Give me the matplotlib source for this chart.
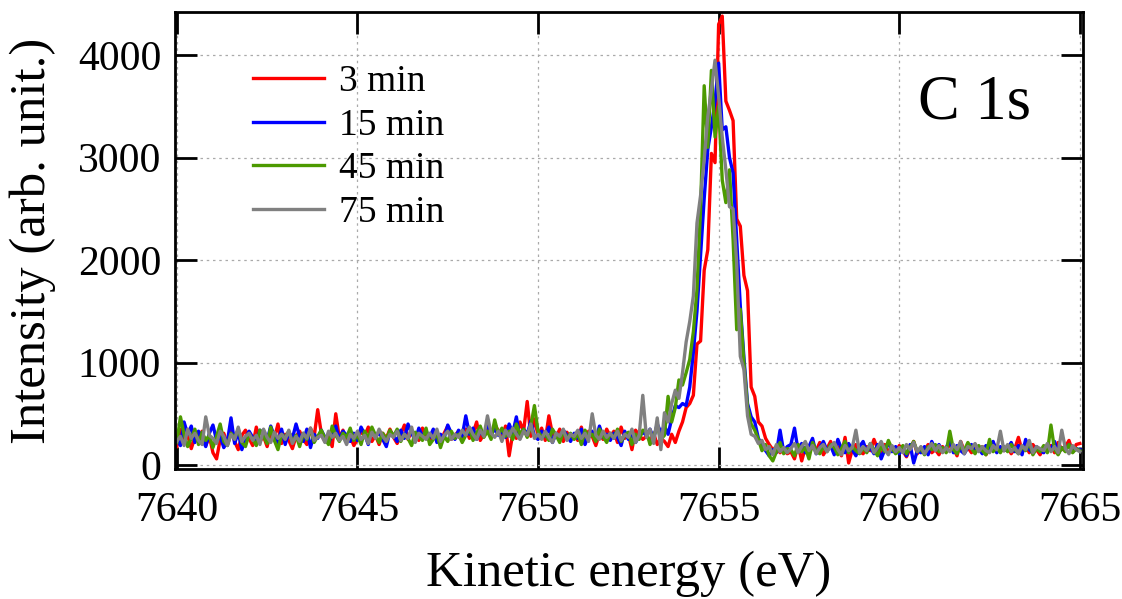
import numpy as np
import matplotlib
matplotlib.use("Agg")
import matplotlib.pyplot as plt

# kinetic energy grid, 0.1 eV step
energy = np.round(np.arange(7640.0, 7665.05, 0.1), 1)

# intensities, one row of 10 values per eV
int_3min = [
    180, 350, 220, 300, 160, 270, 240, 330, 190, 280,
    120, 60, 250, 310, 200, 380, 230, 150, 290, 340,
    260, 190, 370, 230, 280, 180, 320, 260, 400, 210,
    300, 240, 160, 280, 330, 250, 200, 360, 270, 540,
    310, 230, 290, 180, 500, 260, 340, 220, 280, 190,
    250, 330, 280, 370, 230, 290, 200, 310, 260, 350,
    270, 210, 300, 390, 250, 330, 280, 240, 360, 300,
    230, 340, 280, 200, 310, 380, 250, 290, 330, 270,
    350, 260, 310, 420, 240, 300, 360, 280, 400, 330,
    270, 380, 90, 310, 260, 420, 330, 620, 280, 450,
    290, 360, 240, 480, 300, 270, 350, 230, 320, 260,
    300, 240, 370, 210, 330, 280, 190, 310, 250, 350,
    280, 330, 220, 370, 260, 300, 150, 340, 290, 250,
    280, 240, 310, 200, 260, 230, 180, 300, 220, 330,
    420, 560, 600, 680, 1180, 1210, 1900, 2100, 3040, 2950,
    4300, 4380, 3550, 3460, 3360, 2400, 2330, 1850, 1700, 760,
    670, 420, 380, 260, 200, 150, 180, 120, 160, 110,
    130, 60, 200, 40, 170, 110, 190, 140, 220, 100,
    160, 230, 120, 180, 90, 270, 20, 150, 200, 130,
    110, 180, 140, 250, 160, 90, 200, 130, 170, 120,
    190, 140, 80, 160, 230, 110, 170, 140, 200, 120,
    150, 100, 180, 130, 210, 160, 90, 230, 140, 170,
    120, 200, 150, 180, 100, 160, 220, 130, 170, 140,
    180, 110, 160, 270, 140, 190, 120, 200, 150, 100,
    170, 130, 190, 120, 220, 150, 180, 240, 130, 200,
    210,
]

int_15min = [
    250, 190, 420, 300, 380, 220, 330, 260, 180, 310,
    390, 240, 280, 170, 230, 460, 210, 320, 150, 260,
    330, 270, 210, 340, 300, 240, 380, 280, 220, 350,
    200, 320, 260, 400, 280, 230, 350, 170, 300, 260,
    340, 270, 210, 300, 380, 250, 330, 290, 230, 310,
    240, 370, 300, 200, 350, 270, 320, 250, 180, 330,
    290, 230, 340, 260, 400, 310, 240, 360, 280, 330,
    270, 350, 220, 300, 260, 390, 310, 250, 340, 280,
    480, 300, 360, 250, 330, 280, 410, 300, 350, 290,
    330, 270, 400, 310, 470, 260, 350, 300, 430, 280,
    250, 330, 280, 370, 220, 310, 260, 340, 290, 230,
    310, 260, 350, 200, 290, 330, 240, 380, 270, 300,
    240, 310, 270, 190, 330, 250, 300, 220, 280, 320,
    290, 350, 260, 400, 320, 380, 300, 450, 580, 560,
    600, 580, 760, 1100, 1500, 2050, 2600, 3080, 3300, 3550,
    3920, 3270, 3300, 3000, 2850, 2200, 1550, 1050, 600, 470,
    420, 260, 200, 140, 90, 150, 120, 340, 130, 180,
    200, 360, 140, 210, 120, 180, 260, 110, 170, 230,
    140, 190, 100, 250, 160, 120, 210, 150, 90, 180,
    230, 130, 170, 110, 200, 60, 150, 220, 130, 180,
    110, 160, 90, 200, 20, 140, 120, 180, 100, 230,
    150, 200, 130, 170, 240, 120, 190, 140, 110, 170,
    200, 130, 160, 110, 190, 150, 230, 120, 180, 140,
    160, 220, 130, 190, 100, 250, 150, 120, 180, 140,
    120, 190, 150, 230, 110, 170, 140, 200, 130, 160,
    150,
]

int_45min = [
    220, 470, 300, 180, 260, 350, 200, 320, 240, 290,
    170, 280, 400, 230, 190, 310, 260, 350, 220, 180,
    300, 250, 190, 340, 280, 210, 370, 240, 150, 300,
    270, 330, 220, 290, 180, 310, 250, 350, 220, 280,
    340, 260, 200, 380, 290, 230, 310, 270, 360, 240,
    300, 200, 330, 260, 370, 290, 220, 310, 250, 340,
    280, 350, 230, 300, 260, 190, 320, 280, 240, 360,
    200, 250, 310, 170, 280, 230, 330, 260, 300, 220,
    290, 360, 240, 310, 380, 270, 330, 250, 440, 300,
    360, 280, 330, 250, 400, 300, 350, 270, 380, 580,
    330, 270, 300, 240, 350, 290, 220, 330, 260, 310,
    250, 310, 200, 340, 270, 300, 230, 350, 280, 220,
    310, 260, 350, 230, 290, 320, 200, 300, 250, 340,
    330, 200, 280, 380, 250, 290, 670, 420, 560, 830,
    780, 900, 1030, 1300, 1710, 2500, 3700, 3100, 3850, 3200,
    3500, 2780, 2560, 2880, 2200, 1320, 1520, 1000, 570, 400,
    340, 250, 140, 200, 90, 40, 130, 220, 110, 160,
    150, 90, 200, 130, 170, 60, 220, 140, 110, 180,
    130, 200, 170, 100, 160, 230, 120, 180, 140, 110,
    170, 120, 210, 150, 90, 180, 130, 240, 160, 110,
    140, 190, 110, 170, 230, 130, 160, 100, 180, 150,
    200, 130, 170, 120, 330, 150, 110, 190, 140, 220,
    160, 110, 190, 140, 100, 250, 130, 170, 120, 180,
    130, 200, 150, 110, 180, 140, 220, 100, 160, 130,
    190, 120, 390, 150, 100, 170, 130, 200, 120, 160,
    140,
]

int_75min = [
    230, 280, 190, 350, 260, 310, 240, 200, 470, 290,
    260, 210, 330, 280, 190, 300, 250, 370, 230, 280,
    310, 240, 290, 200, 350, 270, 220, 320, 260, 300,
    250, 340, 210, 280, 230, 310, 260, 360, 240, 270,
    290, 220, 330, 270, 310, 240, 280, 200, 300, 260,
    330, 250, 290, 210, 320, 260, 350, 280, 230, 300,
    270, 330, 240, 300, 260, 370, 220, 310, 280, 250,
    310, 260, 350, 230, 290, 330, 250, 300, 270, 340,
    290, 370, 300, 250, 340, 280, 480, 310, 270, 330,
    230, 340, 280, 360, 300, 250, 330, 290, 400, 260,
    300, 250, 330, 270, 220, 310, 280, 350, 240, 300,
    280, 340, 260, 310, 230, 500, 290, 250, 330, 270,
    310, 260, 330, 240, 300, 270, 350, 220, 290, 680,
    270, 350, 210, 460, 150, 510, 420, 600, 730, 650,
    900, 1200, 1400, 1650, 2360, 2630, 2980, 3400, 3660, 3950,
    3600, 3200, 2880, 2520, 2500, 1970, 1060, 930, 480, 300,
    280, 210, 240, 150, 180, 100, 200, 130, 170, 120,
    160, 210, 120, 180, 230, 140, 190, 110, 170, 200,
    130, 180, 220, 150, 100, 190, 140, 170, 340, 120,
    180, 140, 210, 120, 170, 230, 150, 100, 190, 130,
    170, 120, 200, 150, 220, 130, 180, 110, 160, 210,
    140, 190, 120, 170, 130, 200, 150, 230, 110, 180,
    160, 210, 130, 180, 140, 120, 190, 150, 330, 140,
    200, 130, 170, 110, 190, 150, 240, 120, 180, 160,
    140, 210, 130, 180, 120, 340, 160, 110, 190, 150,
    130,
]

labels = ["3 min", "15 min", "45 min", "75 min"]
colors = ["#ff0000", "#0000ff", "#4c9a00", "#808080"]

plt.rcParams["font.family"] = ["Liberation Serif", "DejaVu Serif"]

fig = plt.figure(figsize=(11.22, 5.99), dpi=100)
ax = fig.add_axes([0.156, 0.217, 0.809, 0.763])

for y, lab, c in zip([int_3min, int_15min, int_45min, int_75min], labels, colors):
    ax.plot(energy, y, color=c, lw=2.4, label=lab)

ax.set_xlim(7639.95, 7665.08)
ax.set_ylim(-39, 4420)
ax.set_xticks([7640, 7645, 7650, 7655, 7660, 7665])
ax.set_yticks([0, 1000, 2000, 3000, 4000])
ax.grid(True, color="#aaaaaa", linestyle=(0, (2, 3)), linewidth=0.9)

ax.tick_params(direction="in", length=16, width=2, labelsize=30,
               top=True, right=True)
ax.tick_params(axis="x", pad=16)
ax.tick_params(axis="y", pad=10)
for s in ax.spines.values():
    s.set_linewidth(2)

ax.set_xlabel("Kinetic energy (eV)", fontsize=36.5, labelpad=15)
ax.set_ylabel("Intensity (arb. unit.)", fontsize=36.5, labelpad=16)

ax.text(0.881, 0.80, "C 1s", transform=ax.transAxes, fontsize=45,
        ha="center", va="center")

ax.legend(loc="upper left", bbox_to_anchor=(0.086, 0.884), frameon=False,
          fontsize=27, handlelength=1.9, handletextpad=0.4,
          labelspacing=0.24, borderpad=0, borderaxespad=0)

fig.savefig("out.png", dpi=100)
